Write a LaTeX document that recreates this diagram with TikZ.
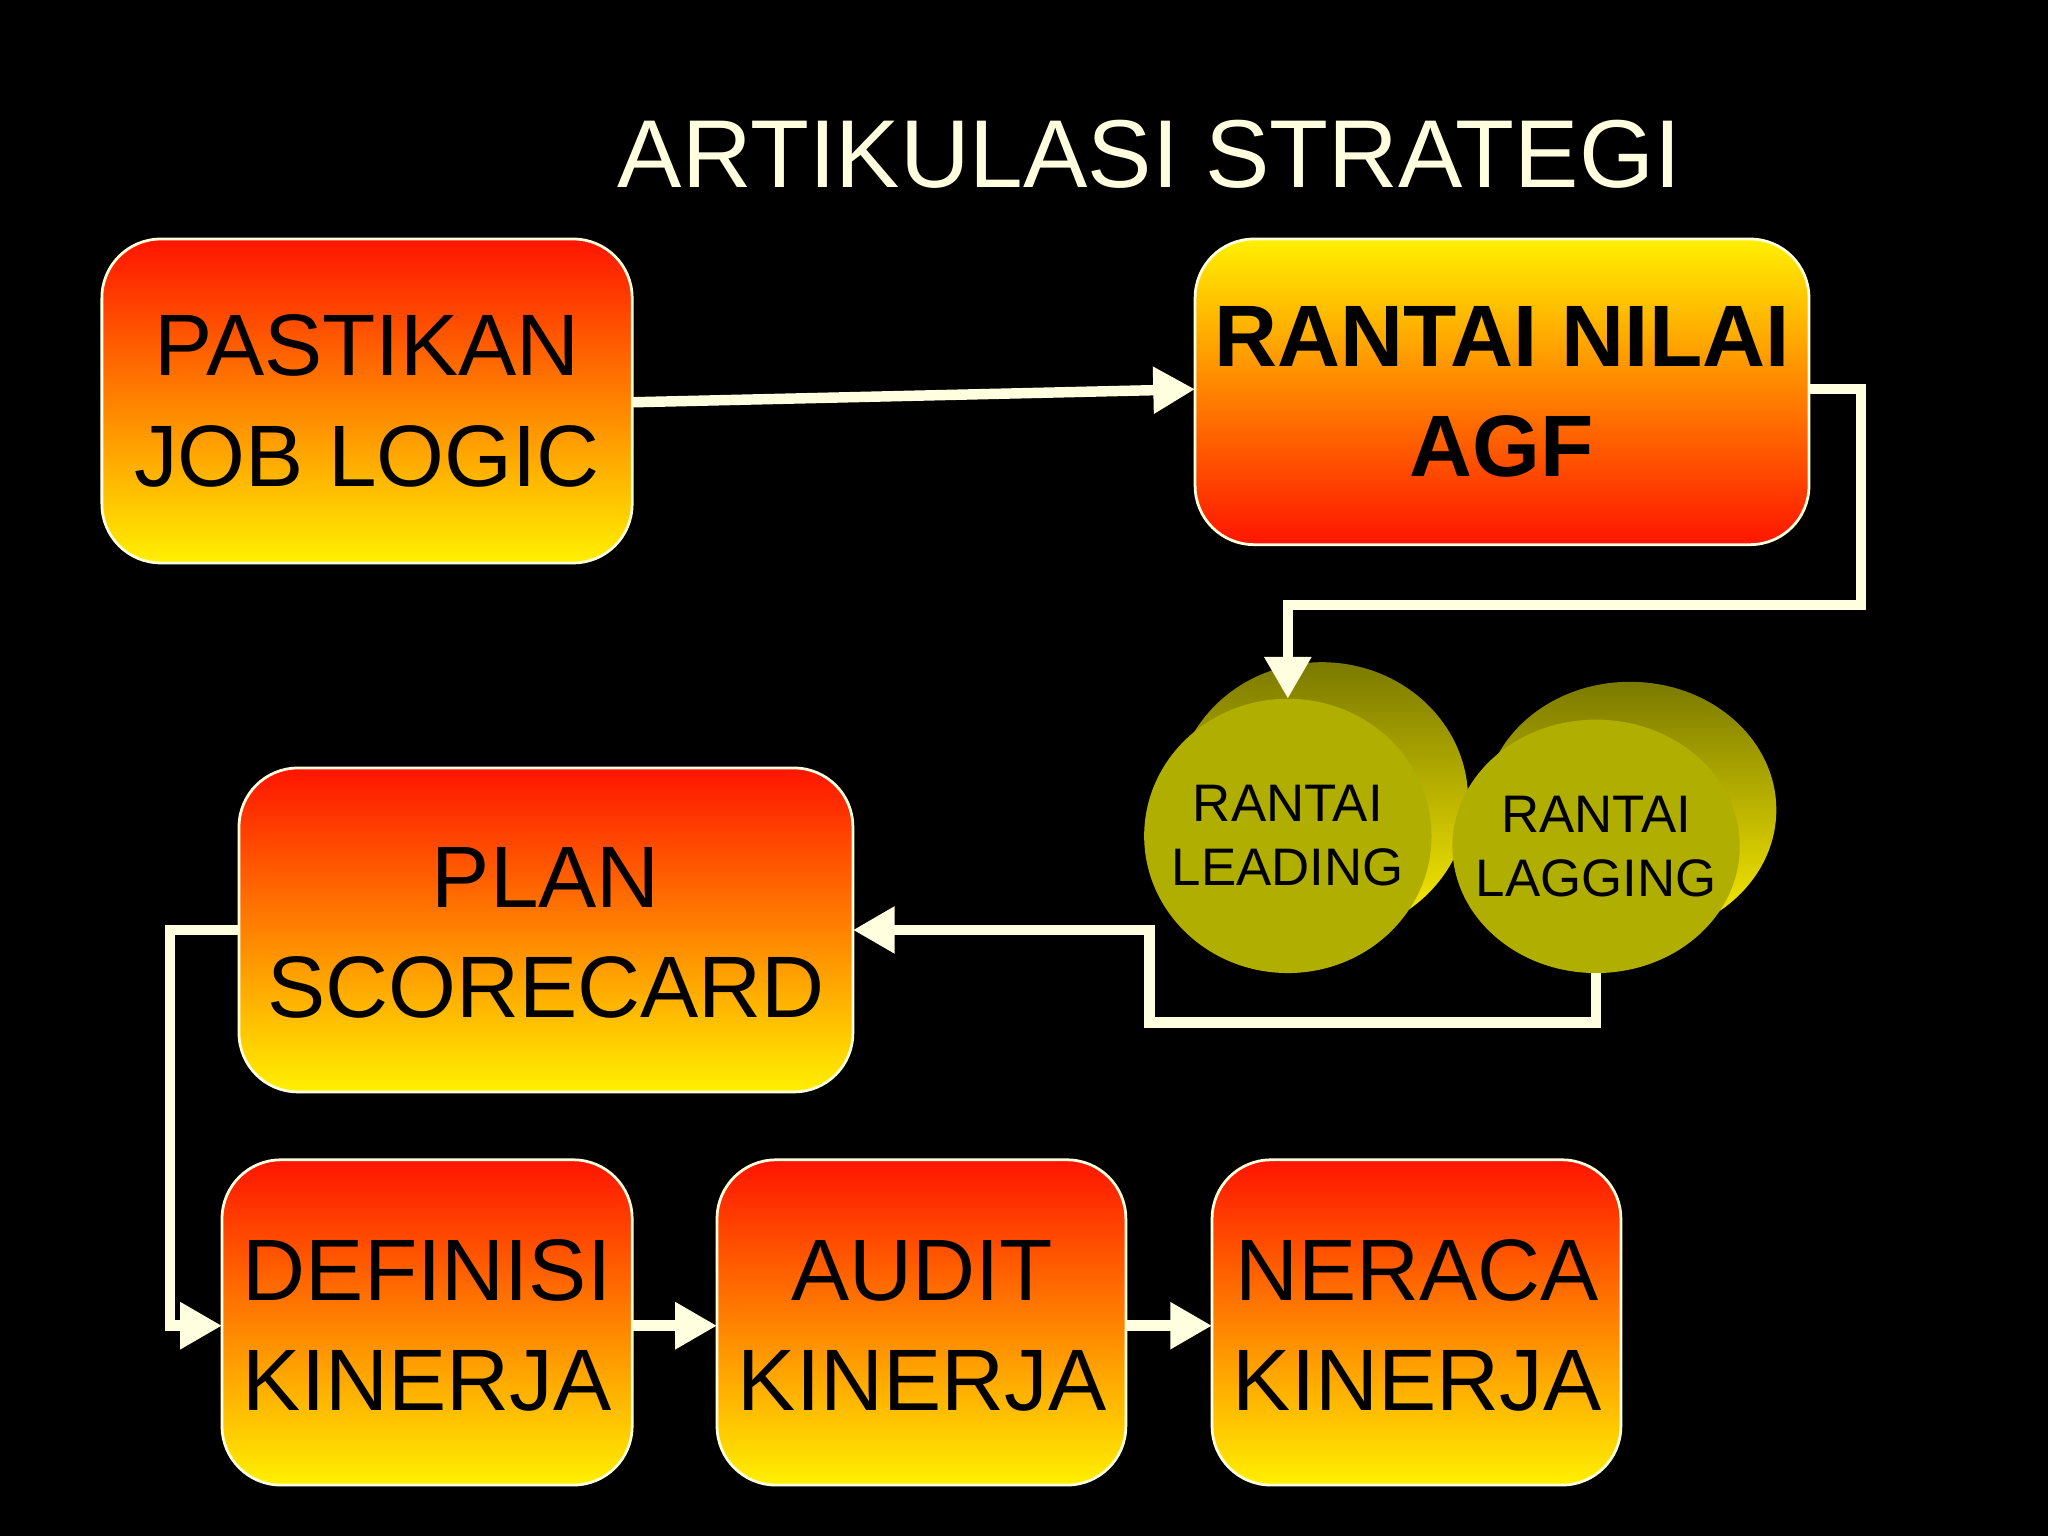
\documentclass[tikz,border=0pt]{standalone}
\usepackage{fontspec}
\setmainfont{Liberation Sans}
\usetikzlibrary{arrows.meta}
\definecolor{rd}{HTML}{FF1500}
\definecolor{yl}{HTML}{FFF000}
\definecolor{cr}{HTML}{FFFFE0}
\definecolor{ol}{HTML}{B0AE00}
\tikzset{
 box/.style={rounded corners=0.45cm,draw=cr,line width=0.6pt,align=center,font=\fontsize{19pt}{24pt}\selectfont},
 ry/.style={top color=rd,bottom color=yl},
 yr/.style={top color=yl,bottom color=rd},
 conn/.style={draw=cr,line width=0.08cm,-{Triangle[length=0.32cm,width=0.34cm]}},
 ball/.style={ellipse,fill=ol,align=center,font=\fontsize{11.5pt}{14pt}\selectfont},
}
\begin{document}
\begin{tikzpicture}[x=0.01cm,y=-0.01cm]
\fill[black] (0,0) rectangle (1568,1176);
\node[text=cr,font=\fontsize{21pt}{24pt}\selectfont] (title) at (880,118) {ARTIKULASI STRATEGI};
\path[box,ry] (78,183) rectangle (484,431); \node[align=center,font=\fontsize{19pt}{24pt}\selectfont] (a) at (281,307) {PASTIKAN\\JOB LOGIC};
\path[box,yr] (915,183) rectangle (1385,417); \node[align=center,font=\fontsize{19pt}{24pt}\selectfont\bfseries] (b) at (1150,300) {RANTAI NILAI\\AGF};
\path[box,ry] (183,588) rectangle (653,836); \node[align=center,font=\fontsize{19pt}{24pt}\selectfont] (p) at (418,714) {PLAN\\SCORECARD};
\path[box,ry] (170,888) rectangle (484,1137); \node[align=center,font=\fontsize{19pt}{24pt}\selectfont] (d) at (327,1015) {DEFINISI\\KINERJA};
\path[box,ry] (549,888) rectangle (862,1137); \node[align=center,font=\fontsize{19pt}{24pt}\selectfont] (au) at (706,1015) {AUDIT\\KINERJA};
\path[box,ry] (928,888) rectangle (1241,1137); \node[align=center,font=\fontsize{19pt}{24pt}\selectfont] (n) at (1085,1015) {NERACA\\KINERJA};
% balls
\shade[top color=ol!70!black,bottom color=yl] (1012,612) ellipse (112 and 105);
\fill[ol] (986,640) ellipse (110 and 105);
\shade[top color=ol!70!black,bottom color=yl] (1248,620) ellipse (112 and 98);
\fill[ol] (1222,648) ellipse (110 and 97);
\node[align=center,font=\fontsize{11.5pt}{14pt}\selectfont] (l) at (986,640) {RANTAI\\LEADING};
\node[align=center,font=\fontsize{11.5pt}{14pt}\selectfont] (g) at (1222,648) {RANTAI\\LAGGING};
\coordinate (atop) at (986,535);
\coordinate (gbot) at (1222,745);
% connectors
\draw[conn] (484,308) -- (915,298);
\draw[conn] (1385,298) -- (1425,298) -- (1425,463) -- (986,463) -- (atop);
\draw[conn] (gbot) -- (1222,783) -- (880,783) -- (880,712) -- (653,712);
\draw[conn] (183,712) -- (130,712) -- (130,1015) -- (170,1015);
\draw[conn] (484,1015) -- (549,1015);
\draw[conn] (862,1015) -- (928,1015);
\end{tikzpicture}
\end{document}
